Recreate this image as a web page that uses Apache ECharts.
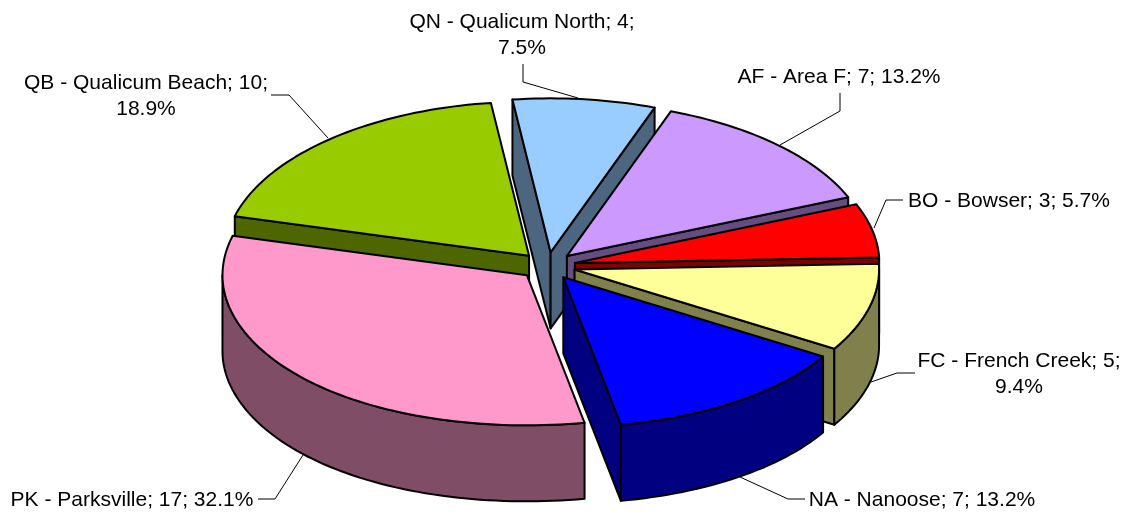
<!DOCTYPE html>
<html><head><meta charset="utf-8">
<style>html,body{margin:0;padding:0;background:#fff}#c{width:1125px;height:512px}</style>
<script src="https://cdn.jsdelivr.net/npm/echarts@6/dist/echarts.min.js"></script>
</head><body><div id="c"></div>
<script>
// data
const names = ['QN - Qualicum North','AF - Area F','BO - Bowser','FC - French Creek','NA - Nanoose','PK - Parksville','QB - Qualicum Beach'];
const values = [4,7,3,5,7,17,10];
const topColors = ['#99CCFF','#CC99FF','#FF0000','#FFFF99','#0000FF','#FF99CC','#99CC00'];
const wallColors = ['#4D6680','#664D80','#800000','#80804D','#000080','#804D66','#4D6600'];
// layout
const drawOrder = [6,0,1,2,3,5,4];
const pie = {cx:547.5,cy:266,rx:304.5,ryFront:150,ryBack:154,depth:76,explode:28,firstAngle:-7.2,squash:0.49,frontWiden:0.03};
const labelBreakBeforePct = [true,false,false,true,false,false,true];
const labelAnchor = [[522,35],[839,77],[1009,201],[1019,374],[922,500],[132,500],[146,96]];
const leaders = [
 [[523,64],[523,82],[578,98]],
 [[840,93],[840,111],[780,145]],
 [[903,200],[886,200],[874,228]],
 [[915,373],[897,373],[871,382]],
 [[805,499],[788,499],[740,477]],
 [[258,499],[275,499],[303,455]],
 [[271,95],[289,95],[328,138]]
];
const total = values.reduce((a,b)=>a+b,0);
const rad = d=>d*Math.PI/180;
function sliceGeom(i){
  let cum=0; for(let k=0;k<i;k++) cum+=values[k];
  const a0=pie.firstAngle+360*cum/total, a1=a0+360*values[i]/total, mid=(a0+a1)/2;
  const ax=pie.cx+pie.explode*Math.sin(rad(mid));
  const ay=pie.cy-pie.explode*pie.squash*Math.cos(rad(mid));
  return {a0,a1,ax,ay};
}
function rim(g,a,dy){
  const c=Math.cos(rad(a));
  const widen=1+pie.frontWiden*Math.pow(Math.max(0,-c),3);
  const ry=c>0?pie.ryBack:pie.ryFront;
  return [g.ax+pie.rx*widen*Math.sin(rad(a)),g.ay-ry*c+(dy||0)];
}
function arc(g,a0,a1,dy){const n=Math.max(2,Math.ceil(Math.abs(a1-a0)/1.5));const p=[];for(let k=0;k<=n;k++)p.push(rim(g,a0+(a1-a0)*k/n,dy));return p;}
const edge={stroke:'#000',lineWidth:2,lineJoin:'round'};
function poly(points,fill,z2){return {type:'polygon',z2,shape:{points},style:Object.assign({fill},edge)};}
function renderSlice(params,api){
  const i=api.value(0);
  const g=sliceGeom(i), rank=drawOrder.indexOf(i)*10, wall=wallColors[i];
  const d=pie.depth, kids=[];
  const s=a=>Math.sin(rad(a));
  const apex=[g.ax,g.ay], apexB=[g.ax,g.ay+d];
  if(s(g.a0)<0){const r=rim(g,g.a0);kids.push(poly([apex,r,rim(g,g.a0,d),apexB],wall,rank+1));}
  if(s(g.a1)>0){const r=rim(g,g.a1);kids.push(poly([apex,r,rim(g,g.a1,d),apexB],wall,rank+2));}
  const lo=Math.max(g.a0,90), hi=Math.min(g.a1,270);
  if(lo<hi){kids.push(poly(arc(g,lo,hi).concat(arc(g,hi,lo,d)),wall,rank+3));}
  kids.push(poly([apex].concat(arc(g,g.a0,g.a1)),topColors[i],rank+4));
  return {type:'group',children:kids};
}
function renderLabel(params,api){
  const i=api.value(0);
  const pct=(100*values[i]/total).toFixed(1)+'%';
  const text=names[i]+'; '+values[i]+';'+(labelBreakBeforePct[i]?'\n':' ')+pct;
  return {type:'group',children:[
    {type:'polyline',z2:200,shape:{points:leaders[i]},style:{stroke:'#000',lineWidth:1,fill:null}},
    {type:'text',z2:201,style:{text,x:labelAnchor[i][0],y:labelAnchor[i][1],align:'center',verticalAlign:'middle',fill:'#000',font:'21px "Liberation Sans", Arial, sans-serif',lineHeight:26.5}}
  ]};
}
const rows=values.map((v,i)=>[i,v]);
const chart=echarts.init(document.getElementById('c'),null,{renderer:'canvas'});
chart.setOption({
  animation:false,
  backgroundColor:'#fff',
  series:[
    {type:'custom',coordinateSystem:'none',renderItem:renderSlice,data:rows,silent:true,z:1},
    {type:'custom',coordinateSystem:'none',renderItem:renderLabel,data:rows,silent:true,z:2}
  ]
});
</script></body></html>
